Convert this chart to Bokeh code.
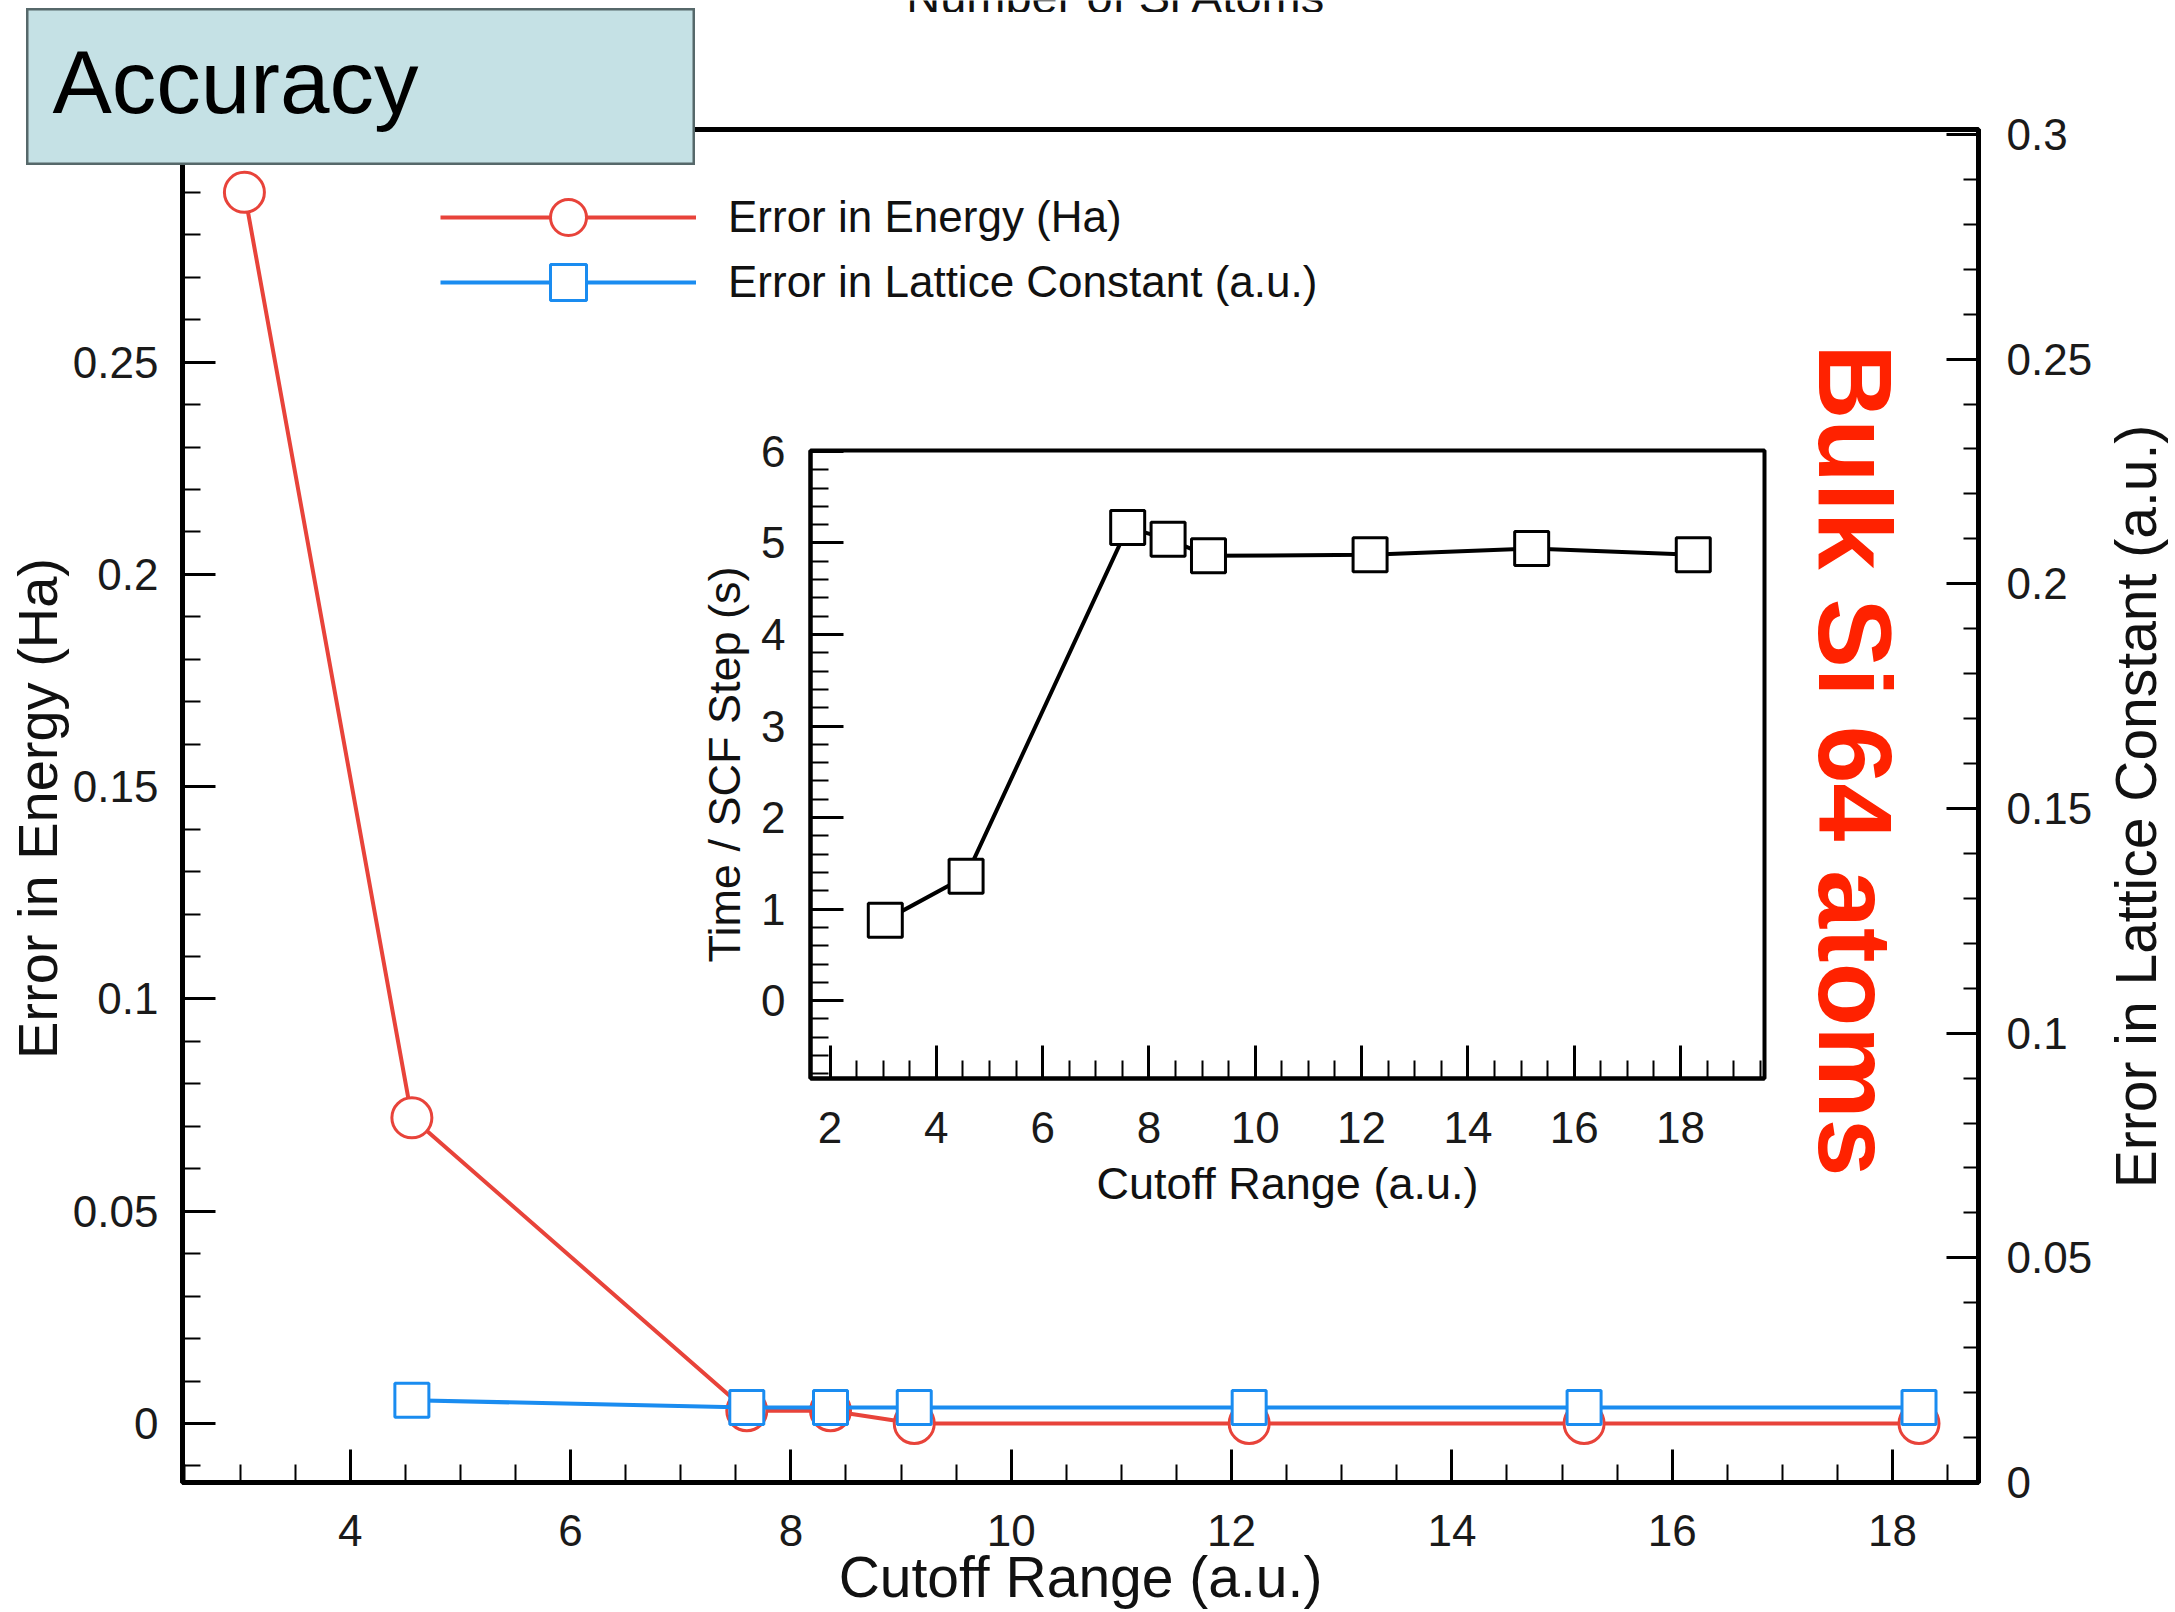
import math
from bokeh.plotting import figure
from bokeh.models import (Range1d, LinearAxis, SingleIntervalTicker, CustomJSTickFormatter,
                          Label, Legend, LegendItem)
from bokeh.embed import file_html
from bokeh.resources import INLINE

# ---------------- data ----------------
cutoff = [3.04, 4.56, 7.6, 8.36, 9.12, 12.16, 15.2, 18.24]
energy_err = [0.290, 0.072, 0.003, 0.003, 0.0, 0.0, 0.0, 0.0]
lattice_cutoff = [4.56, 7.6, 8.36, 9.12, 12.16, 15.2, 18.24]
lattice_err = [0.0183, 0.0167, 0.0167, 0.0167, 0.0167, 0.0167, 0.0167]
time_per_scf = [0.88, 1.36, 5.17, 5.04, 4.86, 4.87, 4.94, 4.87]

FONT = "Liberation Sans"
RED = "#e8433a"
BLUE = "#1a8cf0"

fmt = CustomJSTickFormatter(code="return String(Number(tick.toFixed(4)));")


def style_axis(ax, major_in=33, minor_in=18, lw=5):
    ax.axis_line_width = lw
    ax.axis_line_color = "black"
    ax.major_tick_in = major_in
    ax.major_tick_out = 0
    ax.minor_tick_in = minor_in
    ax.minor_tick_out = 0
    ax.major_tick_line_width = 3
    ax.minor_tick_line_width = 2
    ax.major_label_text_font = FONT
    ax.major_label_text_font_size = "44px"
    ax.major_label_text_color = "#1a1a1a"
    ax.axis_label_text_font = FONT
    ax.axis_label_text_font_style = "normal"
    ax.axis_label_text_color = "#111111"


def text_fig(left, top, w, h, label, bg=None, outline=None):
    f = figure(width=w, height=h, output_backend="svg", toolbar_location=None,
               x_range=Range1d(0, w), y_range=Range1d(0, h), min_border=0,
               x_axis_location=None, y_axis_location=None)
    f.grid.visible = False
    f.border_fill_color = None
    f.background_fill_color = bg
    if outline:
        f.outline_line_color = outline
        f.outline_line_width = 4
    else:
        f.outline_line_color = None
    f.styles = {"position": "absolute", "left": f"{left}px", "top": f"{top}px"}
    f.add_layout(label)
    return f


# ---------------- main plot ----------------
p = figure(width=2175, height=1612, output_backend="svg", toolbar_location=None,
           x_range=Range1d(2.478, 18.78), y_range=Range1d(-0.0139, 0.3048),
           min_border_left=182, min_border_right=197, min_border_top=129,
           min_border_bottom=130)
p.extra_y_ranges = {"lat": Range1d(0, 0.3011)}
p.add_layout(LinearAxis(y_range_name="lat"), "right")
p.grid.visible = False
p.outline_line_color = "black"
p.outline_line_width = 5

xax = p.xaxis[0]
yl = p.yaxis[0]
yr = p.yaxis[1]
for ax in (xax, yl, yr):
    style_axis(ax)

xax.ticker = SingleIntervalTicker(interval=2, num_minor_ticks=4)
xax.major_label_standoff = 32

yl.ticker = SingleIntervalTicker(interval=0.05, num_minor_ticks=5)
yl.formatter = fmt
yl.major_label_standoff = 24

yr.ticker = SingleIntervalTicker(interval=0.05, num_minor_ticks=5)
yr.formatter = fmt
yr.major_label_standoff = 28
yr.major_tick_in = 32
yr.minor_tick_in = 15

r_line = p.line(cutoff, energy_err, line_color=RED, line_width=4)
r_pts = p.scatter(cutoff, energy_err, marker="circle", size=40, fill_color="white",
                  line_color=RED, line_width=3)
b_line = p.line(lattice_cutoff, lattice_err, y_range_name="lat", line_color=BLUE, line_width=4)
b_pts = p.scatter(lattice_cutoff, lattice_err, y_range_name="lat", marker="square", size=34,
                  fill_color="white", line_color=BLUE, line_width=3)


def make_legend(label, renderers, loc):
    return Legend(items=[LegendItem(label=label, renderers=renderers)],
                  location=loc, glyph_width=256, glyph_height=90,
                  padding=0, margin=0, label_standoff=32, border_line_color=None,
                  background_fill_alpha=0, label_text_font=FONT, label_text_font_size="44px",
                  label_text_color="#111111")


p.add_layout(make_legend("Error in Energy (Ha)", [r_line, r_pts], (258, 1220)))
p.add_layout(make_legend("Error in Lattice Constant (a.u.)", [b_line, b_pts], (258, 1155)))

p.add_layout(Label(x=17.655, y=0.1562, text="Bulk Si 64 atoms", angle=-math.pi / 2,
                   text_align="center", text_baseline="middle", text_font=FONT,
                   text_font_style="bold", text_font_size="104px", text_color="#ff2200"))

# ---------------- inset ----------------
q = figure(width=1134, height=808, output_backend="svg", toolbar_location=None,
           x_range=Range1d(1.633, 19.58), y_range=Range1d(-0.85, 6.01),
           min_border_left=170, min_border_right=10, min_border_top=30,
           min_border_bottom=150)
q.styles = {"position": "absolute", "left": "640px", "top": "420px"}
q.border_fill_color = None
q.background_fill_color = "white"
q.grid.visible = False
q.outline_line_color = "black"
q.outline_line_width = 4

qx = q.xaxis[0]
qy = q.yaxis[0]
for ax in (qx, qy):
    style_axis(ax, lw=4)
    ax.axis_label_text_font_size = "45px"
qx.ticker = SingleIntervalTicker(interval=2, num_minor_ticks=4)
qx.major_label_standoff = 33
qx.axis_label = "Cutoff Range (a.u.)"
qx.axis_label_standoff = 12
qy.ticker = SingleIntervalTicker(interval=1, num_minor_ticks=5)
qy.major_label_standoff = 25
qy.axis_label = "Time / SCF Step (s)"
qy.axis_label_standoff = 8

q.line(cutoff, time_per_scf, line_color="black", line_width=4)
q.scatter(cutoff, time_per_scf, marker="square", size=34, fill_color="white",
          line_color="black", line_width=3)

# ---------------- outer titles / boxes ----------------
left_title = text_fig(0, 300, 90, 1000,
                      Label(x=37, y=492, text="Error in Energy (Ha)", angle=math.pi / 2,
                            text_align="center", text_baseline="middle", text_font=FONT,
                            text_font_size="56px", text_color="#111111"))
right_title = text_fig(2090, 300, 85, 1000,
                       Label(x=45, y=494, text="Error in Lattice Constant (a.u.)",
                             angle=math.pi / 2, text_align="center", text_baseline="middle",
                             text_font=FONT, text_font_size="57px", text_color="#111111"))
bottom_title = text_fig(0, 1520, 2175, 92,
                        Label(x=1080, y=36, text="Cutoff Range (a.u.)", text_align="center",
                              text_baseline="alphabetic", text_font=FONT,
                              text_font_size="57px", text_color="#111111"))
top_title = text_fig(800, 0, 650, 12,
                     Label(x=316, y=16, text="Number of Si Atoms", text_align="center",
                           text_baseline="alphabetic", text_font=FONT,
                           text_font_size="47px", text_color="#111111"))
accuracy = text_fig(26, 8, 669, 157,
                    Label(x=26, y=84, text="Accuracy", text_align="left",
                          text_baseline="alphabetic", text_font=FONT,
                          text_font_size="89px", text_color="black"),
                    bg="#c5e1e5", outline="#56686a")

open("out.html", "w").write(file_html([p, q, left_title, right_title, bottom_title,
                                       top_title, accuracy], INLINE))
